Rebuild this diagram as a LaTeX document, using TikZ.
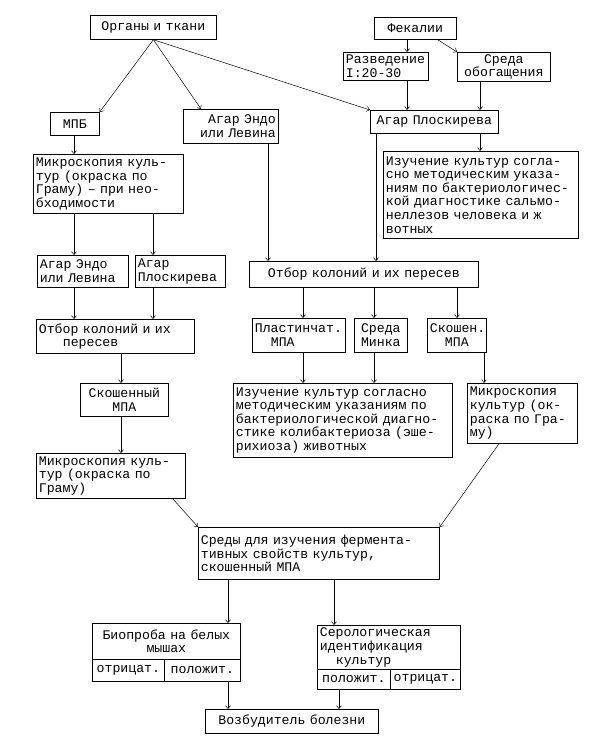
\documentclass[tikz,border=0pt]{standalone}
\usepackage{fontspec}
\setmainfont{Liberation Mono}
\usetikzlibrary{arrows.meta}

\tikzset{
  box/.style={draw, line width=0.7pt, anchor=north west, inner xsep=2.5pt,
    inner ysep=0.5pt, font=\fontsize{13.2}{13.6}\selectfont},
  cell/.style={box, align=center, inner xsep=1pt},
  arr/.style={-{Straight Barb[length=3pt,width=5pt]}, line width=0.5pt},
}

\begin{document}
\begin{tikzpicture}[x=1pt,y=-1pt]
      \useasboundingbox (0,0) rectangle (605,750);
      % columns of the vertical arrows
      \coordinate (xa) at (74,0);
      \coordinate (xb) at (153,0);
      \coordinate (xc) at (121,0);
      \coordinate (xd) at (268,0);
      \coordinate (xe) at (376,0);
      \coordinate (xf) at (407,0);
      \coordinate (xg) at (480,0);
      \coordinate (xh) at (303,0);
      \coordinate (xi) at (374,0);
      \coordinate (xj) at (457,0);
      \coordinate (xk) at (484,0);
      \coordinate (xl) at (228,0);
      \coordinate (xm) at (334,0);
      \coordinate (xn) at (339,0);

      \node[box, text width=121pt, minimum height=24pt, align=center] (organs) at (90,15) {Органы и ткани};
      \node[box, text width=77pt, minimum height=22pt, align=center] (feces) at (374,17) {Фекалии};
      \node[box, text width=80pt, minimum height=28pt, align=left] (razv) at (343,52) {Разведение\\I:20-30};
      \node[box, text width=88pt, minimum height=29pt, align=center] (sreda) at (457,52) {Среда\\обогащения};
      \node[box, text width=44pt, minimum height=23pt, align=center] (mpb) at (50,112) {МПБ};
      \node[box, text width=90pt, minimum height=34pt, align=right] (endo1) at (183,109) {Агар Эндо\\или Левина};
      \node[box, text width=123pt, minimum height=23pt, align=center] (plosk1) at (370,110) {Агар Плоскирева};
      \node[box, text width=145pt, minimum height=59pt, align=left] (mikro1) at (33,154)
        {Микроскопия куль-\\тур (окраска по\\Граму) – при нео-\\бходимости};
      \node[box, text width=190pt, minimum height=87pt, align=left] (salm) at (383,151)
        {Изучение культур согла-\\сно методическим указа-\\ниям по бактериологичес-\\кой диагностике сальмо-\\неллезов человека и ж\\вотных};
      \node[box, text width=86pt, minimum height=32pt, align=left] (endo2) at (37,255) {Агар Эндо\\или Левина};
      \node[box, text width=85pt, minimum height=32pt, align=left] (plosk2) at (135,255) {Агар\\Плоскирева};
      \node[box, text width=153pt, minimum height=34pt, align=left] (otbor1) at (36,319)
        {Отбор колоний и их\\\hspace*{24pt}пересев};
      \node[box, text width=224pt, minimum height=26pt, align=center] (otbor2) at (249,261) {Отбор колоний и их пересев};
      \node[box, text width=88pt, minimum height=34pt, align=left] (plast) at (252,318) {Пластинчат.\\\hspace*{16pt}МПА};
      \node[box, text width=48pt, minimum height=34pt, align=center] (minka) at (354,318) {Среда\\Минка};
      \node[box, text width=54pt, minimum height=34pt, align=center] (skosh2) at (427,318) {Скошен.\\МПА};
      \node[box, text width=83pt, minimum height=33pt, align=center] (skosh1) at (80,383) {Скошенный\\МПА};
      \node[box, text width=214pt, minimum height=74pt, align=left] (izuch2) at (233,383)
        {Изучение культур согласно\\методическим указаниям по\\бактериологической диагно-\\стике колибактериоза (эше-\\рихиоза) животных};
      \node[box, text width=105pt, minimum height=60pt, align=left] (mikro3) at (467,383)
        {Микроскопия\\культур (ок-\\раска по Гра-\\му)};
      \node[box, text width=144pt, minimum height=45pt, align=left] (mikro2) at (36,453)
        {Микроскопия куль-\\тур (окраска по\\Граму)};
      \node[box, text width=236pt, minimum height=52pt, align=left] (sredy) at (198,527)
        {Среды для изучения фермента-\\тивных свойств культур,\\скошенный МПА};
      \node[box, text width=143pt, minimum height=36pt, align=center] (bio) at (92,623) {Биопроба на белых\\мышах};
      \node[cell, minimum width=72pt, minimum height=22pt] (bioneg) at (92,659) {отрицат.};
      \node[cell, minimum width=76pt, minimum height=22pt] (biopos) at (164,659) {положит.};
      \node[box, text width=138pt, minimum height=44pt, align=left] (sero) at (317,625)
        {Серологическая\\идентификация\\\hspace*{16pt}культур};
      \node[cell, minimum width=73pt, minimum height=20pt] (seropos) at (317,669) {положит.};
      \node[cell, minimum width=70pt, minimum height=20pt] (seroneg) at (390,669) {отрицат.};
      \node[box, text width=168pt, minimum height=24pt, align=center] (vozb) at (205,709) {Возбудитель болезни};

      % arrows
      \draw[arr] (organs.south) -- (mpb.north east);
      \draw[arr] (organs.south) -- ([xshift=18pt]endo1.north west);
      \draw[arr] (organs.south) -- (plosk1.north west);
      \draw[arr] (feces.south -| xf) -- (razv.north -| xf);
      \draw[arr] ([xshift=-19pt]feces.south east) -- (sreda.north west);
      \draw[arr] (razv.south -| xf) -- (plosk1.north -| xf);
      \draw[arr] (sreda.south -| xg) -- (plosk1.north -| xg);
      \draw[arr] (plosk1.south -| xg) -- (salm.north -| xg);
      \draw[arr] (plosk1.south -| xe) -- (otbor2.north -| xe);
      \draw[arr] (endo1.south -| xd) -- (otbor2.north -| xd);
      \draw[arr] (mpb.south -| xa) -- (mikro1.north -| xa);
      \draw[arr] (mikro1.south -| xa) -- (endo2.north -| xa);
      \draw[arr] (mikro1.south -| xb) -- (plosk2.north -| xb);
      \draw[arr] (endo2.south -| xa) -- (otbor1.north -| xa);
      \draw[arr] (plosk2.south -| xb) -- (otbor1.north -| xb);
      \draw[arr] (otbor1.south -| xc) -- (skosh1.north -| xc);
      \draw[arr] (skosh1.south -| xc) -- (mikro2.north -| xc);
      \draw[arr] (otbor2.south -| xh) -- (plast.north -| xh);
      \draw[arr] (otbor2.south -| xi) -- (minka.north -| xi);
      \draw[arr] (otbor2.south -| xj) -- (skosh2.north -| xj);
      \draw[arr] (plast.south -| xh) -- (izuch2.north -| xh);
      \draw[arr] (minka.south -| xi) -- (izuch2.north -| xi);
      \draw[arr] (skosh2.south -| xk) -- (mikro3.north -| xk);
      \draw[arr] ([xshift=-13pt]mikro2.south east) -- (sredy.north west);
      \draw[arr] ([xshift=32pt]mikro3.south west) -- (sredy.north east);
      \draw[arr] (sredy.south -| xl) -- (bio.north -| xl);
      \draw[arr] (sredy.south -| xm) -- (sero.north -| xm);
      \draw[arr] (biopos.south -| xl) -- (vozb.north -| xl);
      \draw[arr] (seropos.south -| xn) -- (vozb.north -| xn);
\end{tikzpicture}
\end{document}
